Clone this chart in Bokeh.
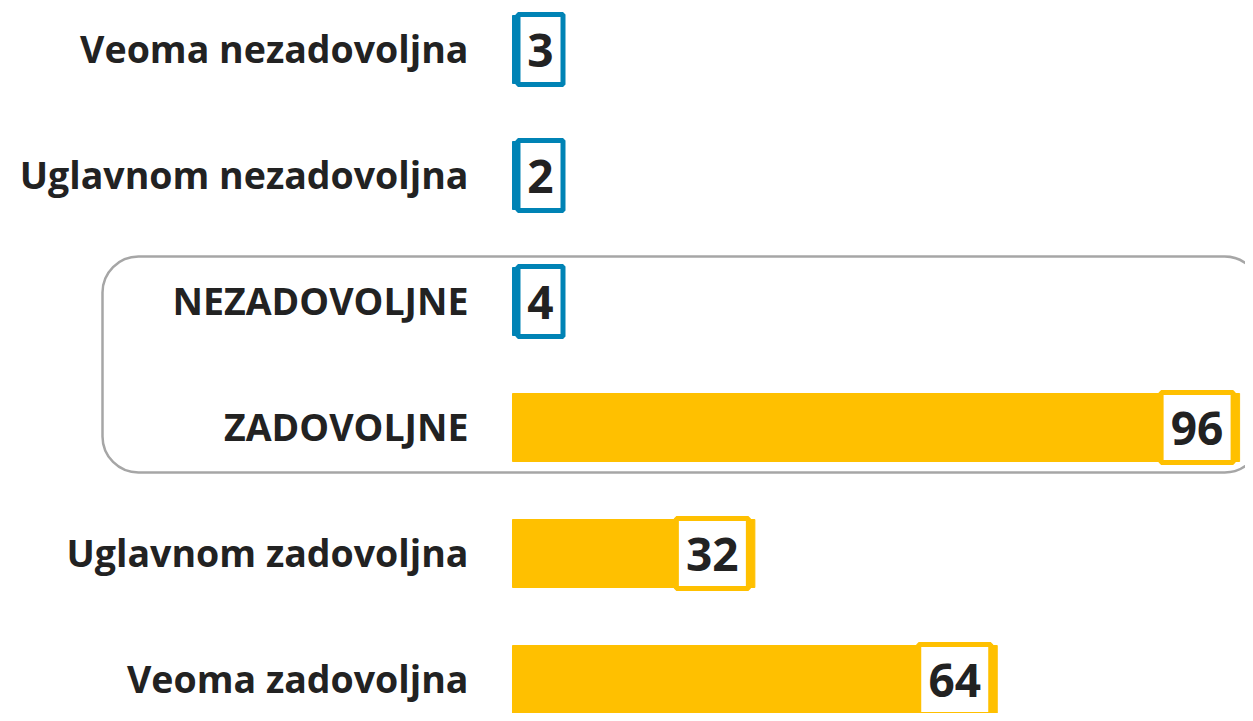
from bokeh.plotting import figure
from bokeh.models import Range1d, BoxAnnotation, ColumnDataSource
from bokeh.core.properties import value
from bokeh.embed import file_html
from bokeh.resources import INLINE

categories = ["Veoma nezadovoljna", "Uglavnom nezadovoljna", "NEZADOVOLJNE",
              "ZADOVOLJNE", "Uglavnom zadovoljna", "Veoma zadovoljna"]
values = [3, 2, 4, 96, 32, 64]
groups = ["neg", "neg", "neg", "pos", "pos", "pos"]

COLORS = {"neg": "#0083B5", "pos": "#FFC000"}
TEXT = "#222222"
FONT = "Open Sans"

W, H = 1245, 713
X0_PX = 512          # pixel position of zero
SCALE = 7.574        # pixels per unit
ROW_PX = 126         # pixels per row
TOP_PX = 49          # pixel of first row centre

x_start = -X0_PX / SCALE
x_end = (W - X0_PX) / SCALE
y_end = TOP_PX / ROW_PX
y_start = y_end - H / ROW_PX

p = figure(width=W, height=H, output_backend="svg", toolbar_location=None,
           x_range=Range1d(x_start, x_end), y_range=Range1d(y_start, y_end),
           min_border=0, outline_line_color=None)
p.axis.visible = False
p.grid.visible = False
p.background_fill_color = "white"

ys = [-i for i in range(len(categories))]
colors = [COLORS[g] for g in groups]

# rounded outline around the summary rows
box = BoxAnnotation(left=(102 - X0_PX) / SCALE, right=x_end + 2,
                    top=-2 + 45 / ROW_PX, bottom=-3 - 45 / ROW_PX,
                    fill_alpha=0, line_color="#A6A6A6", line_alpha=1.0,
                    line_width=2.5, border_radius=36)
p.add_layout(box)

src = ColumnDataSource(dict(y=ys, v=values, c=colors, cat=categories,
                            lab=[str(v) for v in values]))
p.hbar(y="y", left=0, right="v", height=68 / ROW_PX, color="c", source=src)

# value boxes
LW = 5
bx, bw = [], []
for v in values:
    w_out = 50 if v < 10 else 77
    if v * SCALE - 4 - w_out >= 3:
        cx = v - (4 + w_out / 2) / SCALE
    else:
        cx = (3 + w_out / 2) / SCALE
    bx.append(cx)
    bw.append(w_out - LW)
src.data["bx"] = bx
src.data["bw"] = bw
p.rect(x="bx", y="y", width="bw", height=75 - LW, width_units="screen",
       height_units="screen", fill_color="white", line_color="c",
       line_width=LW, source=src)
p.text(x="bx", y="y", text="lab", text_align="center", text_baseline="middle",
       text_font=value(FONT), text_font_style="bold", text_font_size="46px",
       text_color=TEXT, y_offset=1, source=src)

# category labels
p.text(x=0, y="y", text="cat", x_offset=-44, text_align="right",
       text_baseline="middle", text_font=value(FONT), text_font_style="bold",
       text_font_size="37.5px", text_color=TEXT, y_offset=-1, source=src)

open("out.html", "w").write(file_html(p, INLINE))
